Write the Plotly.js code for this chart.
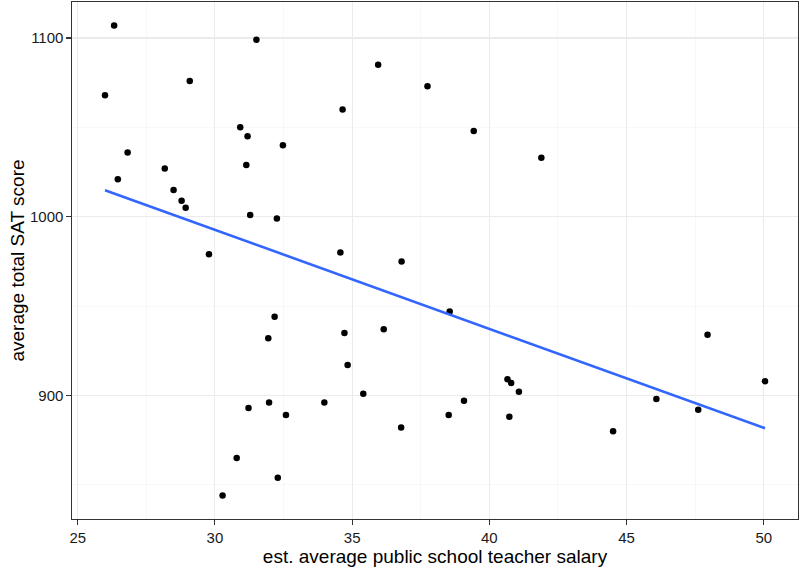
<!DOCTYPE html>
<html><head><meta charset="utf-8">
<script src="https://cdn.plot.ly/plotly-3.0.1.min.js"></script>
<style>html,body{margin:0;padding:0;background:#fff}#chart{width:799px;height:568px}</style>
</head><body><div id="chart"></div>
<script>
// SAT data: state teacher salary (thousands $) and average total SAT score
const states = ["Alabama","Alaska","Arizona","Arkansas","California","Colorado","Connecticut","Delaware","Florida","Georgia","Hawaii","Idaho","Illinois","Indiana","Iowa","Kansas","Kentucky","Louisiana","Maine","Maryland","Massachusetts","Michigan","Minnesota","Mississippi","Missouri","Montana","Nebraska","Nevada","New Hampshire","New Jersey","New Mexico","New York","North Carolina","North Dakota","Ohio","Oklahoma","Oregon","Pennsylvania","Rhode Island","South Carolina","South Dakota","Tennessee","Texas","Utah","Vermont","Virginia","Washington","West Virginia","Wisconsin","Wyoming"];
const salary = [31.144,47.951,32.175,28.934,41.078,34.571,50.045,39.076,32.588,32.291,38.518,29.783,39.431,36.785,31.511,34.652,32.257,26.461,31.972,40.661,40.795,41.895,35.948,26.818,31.189,28.785,30.922,34.836,34.720,46.087,28.493,47.612,30.793,26.327,36.802,28.172,38.555,44.510,40.729,30.279,25.994,32.477,31.223,29.082,35.406,33.987,36.151,31.944,37.746,31.285];
const sat = [1029,934,944,1005,902,980,908,897,889,854,889,979,1048,882,1099,1060,999,1021,896,909,907,1033,1085,1036,1045,1009,1050,917,935,898,1015,892,865,1107,975,1027,947,880,888,844,1068,1040,893,1076,901,896,937,932,1073,1001];
const xTicks = [25,30,35,40,45,50];
const yTicks = [900,1000,1100];

// ordinary least squares fit (geom_smooth(method = "lm", se = FALSE))
const n = salary.length;
const mx = salary.reduce((a,b)=>a+b,0)/n;
const my = sat.reduce((a,b)=>a+b,0)/n;
let sxy=0,sxx=0;
for(let i=0;i<n;i++){sxy+=(salary[i]-mx)*(sat[i]-my);sxx+=(salary[i]-mx)**2;}
const slope=sxy/sxx, icpt=my-slope*mx;
const xmin=Math.min(...salary), xmax=Math.max(...salary);
const fitX=[xmin,xmax], fitY=fitX.map(x=>icpt+slope*x);
const ymin=Math.min(...sat), ymax=Math.max(...sat);
const ex=(xmax-xmin)*0.05, ey=(ymax-ymin)*0.05;

const FONT='Liberation Sans, Arial, sans-serif';
const traces=[
 {x:salary,y:sat,text:states,type:'scatter',mode:'markers',marker:{color:'#000',size:6.5},hoverinfo:'text+x+y'},
 {x:fitX,y:fitY,type:'scatter',mode:'lines',line:{color:'#3366FF',width:2.6},hoverinfo:'skip'}
];
const ax={showline:true,mirror:true,linecolor:'#333333',linewidth:1.1,ticks:'outside',ticklen:4.5,tickwidth:1.1,tickcolor:'#333333',
  gridcolor:'#EBEBEB',gridwidth:1.1,zeroline:false,tickfont:{family:FONT,size:15,color:'#1a1a1a'}};
const layout={
 width:799,height:568,margin:{l:72,r:1,t:2,b:49},showlegend:false,
 paper_bgcolor:'#fff',plot_bgcolor:'#fff',
 xaxis:Object.assign({},ax,{range:[xmin-ex,xmax+ex],tickvals:xTicks,ticktext:xTicks.map(String),
   minor:{tickvals:[27.5,32.5,37.5,42.5,47.5],showgrid:true,gridcolor:'#F4F4F4',gridwidth:0.6,ticks:''},
   title:{text:'est. average public school teacher salary',font:{family:FONT,size:19,color:'#000'},standoff:3}}),
 yaxis:Object.assign({},ax,{range:[ymin-ey,ymax+ey],tickvals:yTicks,ticktext:yTicks.map(String),
   minor:{tickvals:[850,950,1050],showgrid:true,gridcolor:'#F4F4F4',gridwidth:0.6,ticks:''},
   title:{text:'average total SAT score',font:{family:FONT,size:19,color:'#000'},standoff:0}})
};
Plotly.newPlot('chart',traces,layout,{displayModeBar:false,staticPlot:true});
</script></body></html>
